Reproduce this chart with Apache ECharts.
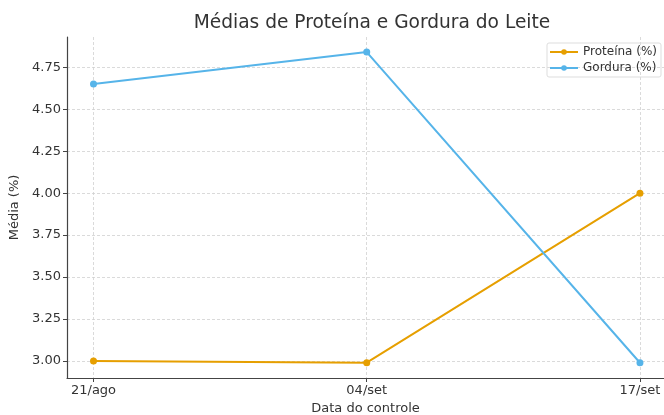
<!DOCTYPE html>
<html>
<head>
<meta charset="utf-8">
<script src="https://cdn.jsdelivr.net/npm/echarts@6/dist/echarts.min.js"></script>
<style>
  html, body { margin: 0; padding: 0; background: #fff; }
  #chart { width: 664px; height: 415px; }
</style>
</head>
<body>
<div id="chart"></div>
<script>
(function () {
  var datas = ['21/ago', '04/set', '17/set'];
  var proteina = [3.00, 2.99, 4.00];
  var gordura = [4.65, 4.84, 2.99];
  var yTicks = [3.00, 3.25, 3.50, 3.75, 4.00, 4.25, 4.50, 4.75];
  var xTicks = [0, 1, 2];

  function pares(vals) {
    return vals.map(function (v, i) { return [i, v]; });
  }

  var myChart = echarts.init(document.getElementById('chart'));
  var font = 'DejaVu Sans';
  var eixo = { show: true, onZero: false, lineStyle: { color: '#444', width: 1.2 } };
  var grade = { show: true, lineStyle: { color: '#d0d0d0', type: [3, 2], width: 0.8 } };

  var option = {
    animation: false,
    textStyle: { fontFamily: font },
    title: {
      text: 'Médias de Proteína e Gordura do Leite',
      left: 367, top: 9, textAlign: 'center',
      textStyle: { fontFamily: font, fontSize: 18.6, fontWeight: 'normal', color: '#333' }
    },
    legend: {
      orient: 'vertical',
      right: 3, top: 43,
      itemWidth: 28, itemHeight: 7, itemGap: 4,
      padding: [3, 4, 3, 2],
      borderColor: '#ddd', borderWidth: 1, borderRadius: 2,
      textStyle: { fontFamily: font, fontSize: 12, color: '#333' },
      data: ['Proteína (%)', 'Gordura (%)']
    },
    // sem ajuste automático: o gráfico original corta a margem direita
    grid: { left: 67, right: 0, top: 37, bottom: 37, outerBoundsMode: 'none', containLabel: false },
    xAxis: {
      type: 'value',
      min: -0.097, max: 2.088,
      name: 'Data do controle',
      nameLocation: 'middle', nameGap: 22,
      nameTextStyle: { fontFamily: font, fontSize: 13, color: '#333' },
      axisLine: eixo,
      axisTick: { show: true, length: 4, customValues: xTicks, lineStyle: { color: '#444' } },
      axisLabel: {
        customValues: xTicks, fontSize: 13, color: '#333', margin: 6,
        formatter: function (v) { return datas[Math.round(v)]; }
      },
      splitLine: Object.assign({ customValues: xTicks }, grade)
    },
    yAxis: {
      type: 'value',
      min: 2.899, max: 4.93,
      name: 'Média (%)',
      nameLocation: 'middle', nameGap: 36,
      nameTextStyle: { fontFamily: font, fontSize: 13, color: '#333' },
      axisLine: eixo,
      axisTick: { show: true, length: 4, customValues: yTicks, lineStyle: { color: '#444' } },
      axisLabel: {
        customValues: yTicks, fontSize: 13, color: '#333', margin: 6,
        formatter: function (v) { return v.toFixed(2); }
      },
      splitLine: Object.assign({ customValues: yTicks }, grade)
    },
    series: [
      {
        name: 'Proteína (%)', type: 'line',
        data: pares(proteina),
        symbol: 'circle', symbolSize: 7,
        itemStyle: { color: '#E69F00' },
        lineStyle: { color: '#E69F00', width: 2 }
      },
      {
        name: 'Gordura (%)', type: 'line',
        data: pares(gordura),
        symbol: 'circle', symbolSize: 7,
        itemStyle: { color: '#56B4E9' },
        lineStyle: { color: '#56B4E9', width: 2 }
      }
    ]
  };

  myChart.setOption(option);
}());
</script>
</body>
</html>
